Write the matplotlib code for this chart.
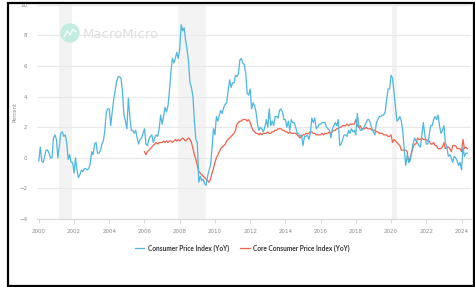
import numpy as np
import matplotlib
matplotlib.use("Agg")
import matplotlib.pyplot as plt
from matplotlib.patches import Rectangle, Ellipse

# CPI YoY, monthly, Jan 2000 - May 2024
cpi = [
    -0.2, 0.7, -0.2, -0.3, 0.1, 0.5, 0.5, 0.3, 0.0, 0.0, 1.3, 1.5,   # 2000
    1.2, 0.0, 0.8, 1.6, 1.7, 1.4, 1.5, 1.0, -0.1, 0.2, -0.3, -0.3,   # 2001
    -1.0, 0.0, -0.8, -1.3, -1.1, -0.8, -0.9, -0.7, -0.7, -0.8, -0.7, -0.4,  # 2002
    0.4, 0.2, 0.9, 1.0, 0.3, 0.3, 0.5, 0.9, 1.1, 1.8, 3.0, 3.2,      # 2003
    3.2, 2.1, 3.0, 3.8, 4.4, 5.0, 5.3, 5.3, 5.2, 4.3, 2.8, 2.4,      # 2004
    1.9, 3.9, 2.7, 1.8, 1.8, 1.6, 1.8, 1.3, 0.9, 1.2, 1.3, 1.6,      # 2005
    1.9, 0.9, 0.8, 1.2, 1.4, 1.5, 1.0, 1.3, 1.5, 1.4, 1.9, 2.8,      # 2006
    2.2, 2.7, 3.3, 3.0, 3.4, 4.4, 5.6, 6.5, 6.2, 6.5, 6.9, 6.5,      # 2007
    7.1, 8.7, 8.3, 8.5, 7.7, 7.1, 6.3, 4.9, 4.6, 4.0, 2.4, 1.2,      # 2008
    1.0, -1.6, -1.2, -1.5, -1.4, -1.7, -1.8, -1.2, -0.8, -0.5, 0.6, 1.9,  # 2009
    1.5, 2.7, 2.4, 2.8, 3.1, 2.9, 3.3, 3.5, 3.6, 4.4, 5.1, 4.6,      # 2010
    4.9, 4.9, 5.4, 5.3, 5.5, 6.4, 6.5, 6.2, 6.1, 5.5, 4.2, 4.1,      # 2011
    4.5, 3.2, 3.6, 3.4, 3.0, 2.2, 1.8, 2.0, 1.9, 1.7, 2.0, 2.5,      # 2012
    2.0, 3.2, 2.1, 2.4, 2.1, 2.7, 2.7, 2.6, 3.1, 3.2, 3.0, 2.5,      # 2013
    2.5, 2.0, 2.4, 1.8, 2.5, 2.3, 2.3, 2.0, 1.6, 1.6, 1.4, 1.5,      # 2014
    0.8, 1.4, 1.4, 1.5, 1.2, 1.6, 2.6, 2.3, 2.6, 1.9, 2.0, 2.2,      # 2015
    2.2, 2.3, 2.3, 2.3, 2.0, 1.9, 1.8, 1.3, 1.9, 2.1, 2.3, 2.1,      # 2016
    2.5, 0.8, 0.9, 1.2, 1.5, 1.5, 1.4, 1.8, 1.6, 1.9, 1.7, 1.8,      # 2017
    1.5, 2.9, 2.1, 1.8, 1.8, 1.9, 2.1, 2.3, 2.5, 2.5, 2.2, 1.9,      # 2018
    1.7, 1.5, 2.3, 2.5, 2.7, 2.7, 2.8, 2.8, 3.0, 3.8, 4.5, 4.5,      # 2019
    5.4, 5.2, 4.3, 3.3, 2.4, 2.5, 2.7, 2.4, 1.7, 0.5, -0.5, 0.2,     # 2020
    -0.3, -0.2, 0.4, 0.9, 1.3, 1.1, 1.0, 0.8, 0.7, 1.5, 2.3, 1.5,    # 2021
    0.9, 0.9, 1.5, 2.1, 2.1, 2.5, 2.7, 2.5, 2.8, 2.1, 1.6, 1.8,      # 2022
    2.1, 1.0, 0.7, 0.1, 0.2, 0.0, -0.3, 0.1, 0.0, -0.2, -0.5, -0.3,  # 2023
    -0.8, 0.7, 0.1, 0.3, 0.3,                                          # 2024
]

# Core CPI YoY, monthly, Jan 2006 - May 2024
core = [
    0.4, 0.2, 0.4, 0.5, 0.6, 0.7, 0.8, 0.9, 1.0, 0.9, 1.0, 1.0,      # 2006
    1.0, 1.1, 1.0, 1.1, 1.0, 1.1, 1.1, 1.0, 1.1, 1.2, 1.1, 1.2,      # 2007
    1.1, 1.2, 1.3, 1.2, 1.1, 1.2, 1.3, 1.2, 1.0, 0.6, 0.2, -0.1,     # 2008
    -0.5, -0.9, -1.0, -1.1, -1.2, -1.3, -1.4, -1.5, -1.6, -1.4, -1.0, -0.7,  # 2009
    -0.3, 0.0, 0.2, 0.4, 0.6, 0.7, 0.8, 0.9, 1.1, 1.2, 1.3, 1.4,     # 2010
    1.5, 1.6, 1.8, 2.2, 2.3, 2.4, 2.4, 2.5, 2.5, 2.5, 2.4, 2.5,      # 2011
    2.3, 2.0, 1.8, 1.7, 1.6, 1.6, 1.5, 1.6, 1.5, 1.6, 1.6, 1.6,      # 2012
    1.7, 1.6, 1.6, 1.7, 1.7, 1.8, 1.8, 1.9, 1.9, 1.9, 1.8, 1.8,      # 2013
    1.7, 1.7, 1.6, 1.7, 1.6, 1.6, 1.6, 1.6, 1.5, 1.4, 1.3, 1.4,      # 2014
    1.5, 1.5, 1.6, 1.6, 1.6, 1.7, 1.7, 1.6, 1.6, 1.5, 1.5, 1.5,      # 2015
    1.5, 1.6, 1.5, 1.6, 1.6, 1.6, 1.7, 1.6, 1.7, 1.8, 1.8, 1.9,      # 2016
    1.9, 2.0, 2.0, 2.1, 2.1, 2.1, 2.2, 2.1, 2.2, 2.2, 2.2, 2.2,      # 2017
    2.5, 2.1, 2.0, 2.1, 1.9, 1.9, 1.9, 2.0, 1.9, 1.9, 1.9, 1.8,      # 2018
    1.8, 1.8, 1.7, 1.7, 1.6, 1.6, 1.6, 1.5, 1.5, 1.5, 1.4, 1.4,      # 2019
    1.5, 1.0, 1.2, 1.1, 1.0, 0.9, 0.8, 0.5, 0.5, 0.5, 0.5, 0.4,      # 2020
    -0.3, 0.0, 0.3, 0.7, 0.9, 0.9, 1.3, 1.2, 1.2, 1.3, 1.2, 1.2,     # 2021
    1.2, 1.1, 1.1, 0.9, 0.9, 1.0, 0.8, 0.8, 0.6, 0.6, 0.6, 0.7,      # 2022
    1.0, 0.6, 0.7, 0.7, 0.6, 0.4, 0.8, 0.8, 0.8, 0.6, 0.6, 0.6,      # 2023
    0.4, 1.2, 0.6, 0.7, 0.6,                                          # 2024
]

cpi_start, core_start = 2000, 2006
recessions = [(2001.17, 2001.9), (2007.92, 2009.5), (2020.08, 2020.33)]
year_ticks = list(range(2000, 2025, 2))
y_ticks = list(range(-4, 11, 2))

cpi_x = cpi_start + np.arange(len(cpi)) / 12
core_x = core_start + np.arange(len(core)) / 12

W, H = 475, 287
fig = plt.figure(figsize=(W / 100, H / 100), dpi=100)
ax = fig.add_axes([0.078, 0.237, 0.914, 0.746])

for a, b in recessions:
    ax.axvspan(a, b, color="#f3f3f3", lw=0, zorder=0)

ax.plot(cpi_x, cpi, color="#4db6e2", lw=0.9, zorder=3, label="Consumer Price Index (YoY)")
ax.plot(core_x, core, color="#f0624c", lw=0.9, zorder=2, label="Core Consumer Price Index (YoY)")

ax.set_xlim(1999.9, 2024.55)
ax.set_ylim(-4, 10)
ax.set_yticks(y_ticks)
ax.set_xticks(year_ticks)
ax.grid(axis="y", color="#e8e8e8", lw=0.8)
ax.set_axisbelow(True)
for s in ["top", "right", "left"]:
    ax.spines[s].set_visible(False)
ax.spines["bottom"].set_color("#d8d8d8")
ax.spines["bottom"].set_linewidth(0.8)
ax.tick_params(axis="x", colors="#d0d0d0", length=3, width=0.6, labelsize=4, labelcolor="#8a8a8a", pad=4)
ax.tick_params(axis="y", length=0, labelsize=4, labelcolor="#8a8a8a", pad=7)
ax.set_ylabel("Percent", fontsize=3.8, color="#8a8a8a", labelpad=1)

# watermark
fig.patches.append(Ellipse((70 / W, 1 - 33 / H), 18 / W, 18 / H, transform=fig.transFigure,
                           color="#c2ecdf", zorder=1))
fig.lines.append(plt.Line2D(np.array([64, 67, 70, 73, 76]) / W,
                            1 - np.array([37, 31, 35, 29, 32]) / H,
                            transform=fig.transFigure, color="white", lw=0.9))
fig.text(83 / W, 1 - 34 / H, "MacroMicro", fontsize=9.5, color="#dedede",
         va="center", ha="left")

leg = fig.legend(loc="center", bbox_to_anchor=(0.51, 1 - 248 / H), ncol=2, frameon=False,
                 prop={"family": "Lato", "weight": "bold", "size": 4.7},
                 handlelength=1.4, columnspacing=1.8, handletextpad=0.5)
for t in leg.get_texts():
    t.set_color("#333333")

# outer frame
fig.patches.append(Rectangle((8 / W, 1.5 / H), 465.5 / W, 283 / H, transform=fig.transFigure,
                             fill=False, edgecolor="black", lw=1.6))

fig.savefig("out.png", dpi=100)
